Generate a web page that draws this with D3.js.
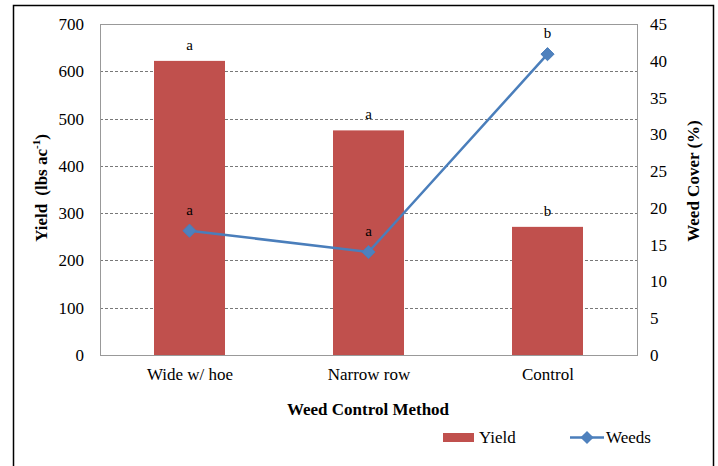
<!DOCTYPE html>
<html><head><meta charset="utf-8">
<script src="https://cdn.jsdelivr.net/npm/d3@7"></script>
<style>body{margin:0;background:#fff}</style>
</head><body>
<svg id="c" width="718" height="466" font-family="Liberation Serif"></svg>
<script>
const categories = ["Wide w/ hoe", "Narrow row", "Control"];
const yieldValues = [622, 475, 271];
const weedValues = [16.9, 14.0, 40.9];
const yieldLetters = ["a", "a", "b"];
const weedLetters = ["a", "a", "b"];
const leftTicks = [0,100,200,300,400,500,600,700];
const rightTicks = [0,5,10,15,20,25,30,35,40,45];

const FONT = "Liberation Serif";
const FS = 17;
const svg = d3.select("#c");
const m = {l:100, r:637, t:24, b:355};
// outer border
svg.append("rect").attr("x",13.5).attr("y",5.5).attr("width",700).attr("height",470)
  .attr("fill","none").attr("stroke","#000").attr("stroke-width",1.5);

const xc = d3.scalePoint().domain(categories).range([m.l,m.r]).padding(0.5);
const yL = d3.scaleLinear().domain([0,700]).range([m.b,m.t]);
const yR = d3.scaleLinear().domain([0,45]).range([m.b,m.t]);

// gridlines
svg.append("g").selectAll("line").data(leftTicks.filter(d=>d>0&&d<700)).join("line")
  .attr("x1",m.l).attr("x2",m.r).attr("y1",d=>Math.round(yL(d))+0.5).attr("y2",d=>Math.round(yL(d))+0.5)
  .attr("stroke","#555").attr("stroke-dasharray","3,2").attr("stroke-width",0.8);

// plot border
svg.append("rect").attr("x",m.l+0.5).attr("y",m.t+0.5).attr("width",m.r-m.l).attr("height",m.b-m.t)
  .attr("fill","none").attr("stroke","#999").attr("stroke-width",1);

// bars
const bw = 71;
svg.append("g").selectAll("rect").data(categories).join("rect")
  .attr("x",(d)=>xc(d)-bw/2).attr("width",bw)
  .attr("y",(d,i)=>yL(yieldValues[i])).attr("height",(d,i)=>m.b-yL(yieldValues[i]))
  .attr("fill","#C0504D");

function styleAxis(g){
  g.attr("font-family",FONT).attr("font-size",FS);
  g.select(".domain").remove();
  g.selectAll("text").attr("fill","#000").attr("font-family",FONT).attr("font-size",FS);
}
const gL = svg.append("g").attr("transform",`translate(${m.l},0)`)
  .call(d3.axisLeft(yL).tickValues(leftTicks).tickSize(0).tickPadding(16));
styleAxis(gL);
const gR = svg.append("g").attr("transform",`translate(${m.r},0)`)
  .call(d3.axisRight(yR).tickValues(rightTicks).tickSize(0).tickPadding(13));
styleAxis(gR);
const gB = svg.append("g").attr("transform",`translate(0,${m.b})`)
  .call(d3.axisBottom(xc).tickSize(0).tickPadding(13));
styleAxis(gB);

// line
const line = d3.line().x((d,i)=>xc(categories[i])).y(d=>yR(d));
svg.append("path").datum(weedValues).attr("d",line).attr("fill","none")
  .attr("stroke","#4A7EBB").attr("stroke-width",2.5);
const diamond = d3.symbol().type(d3.symbolDiamond2).size(110);
svg.append("g").selectAll("path").data(weedValues).join("path")
  .attr("d",diamond).attr("transform",(d,i)=>`translate(${xc(categories[i])},${yR(d)})`)
  .attr("fill","#4F81BD").attr("stroke","#4A7EBB");

// letters
svg.append("g").selectAll("text").data(yieldLetters).join("text")
  .attr("x",(d,i)=>xc(categories[i])).attr("y",(d,i)=>yL(yieldValues[i])-11)
  .attr("text-anchor","middle").attr("font-family",FONT).attr("font-size",15).text(d=>d);
svg.append("g").selectAll("text").data(weedLetters).join("text")
  .attr("x",(d,i)=>xc(categories[i])).attr("y",(d,i)=>yR(weedValues[i])-16)
  .attr("text-anchor","middle").attr("font-family",FONT).attr("font-size",15).text(d=>d);

// axis titles
const tl = svg.append("text").attr("transform","translate(47,188) rotate(-90)")
  .attr("text-anchor","middle").attr("font-family",FONT).attr("font-size",FS).attr("font-weight","bold");
tl.append("tspan").text("Yield");
tl.append("tspan").attr("dx",8).text("(lbs ac");
tl.append("tspan").attr("font-size",11).attr("dy",-7).text("-1");
tl.append("tspan").attr("dy",7).text(")");

svg.append("text").attr("transform","translate(699,181) rotate(-90)")
  .attr("text-anchor","middle").attr("font-family",FONT).attr("font-size",FS).attr("font-weight","bold").text("Weed Cover (%)");

svg.append("text").attr("x",368).attr("y",415).attr("text-anchor","middle")
  .attr("font-family",FONT).attr("font-size",FS).attr("font-weight","bold").text("Weed Control Method");

// legend
const lg = svg.append("g");
lg.append("rect").attr("x",443).attr("y",433).attr("width",31).attr("height",9).attr("fill","#C0504D");
lg.append("text").attr("x",479).attr("y",443).attr("font-family",FONT).attr("font-size",FS).text("Yield");
lg.append("line").attr("x1",570).attr("x2",604).attr("y1",437.5).attr("y2",437.5).attr("stroke","#4A7EBB").attr("stroke-width",2.5);
lg.append("path").attr("d",diamond).attr("transform","translate(587,437.5)").attr("fill","#4F81BD");
lg.append("text").attr("x",606).attr("y",443).attr("font-family",FONT).attr("font-size",FS).text("Weeds");
</script>
</body></html>
